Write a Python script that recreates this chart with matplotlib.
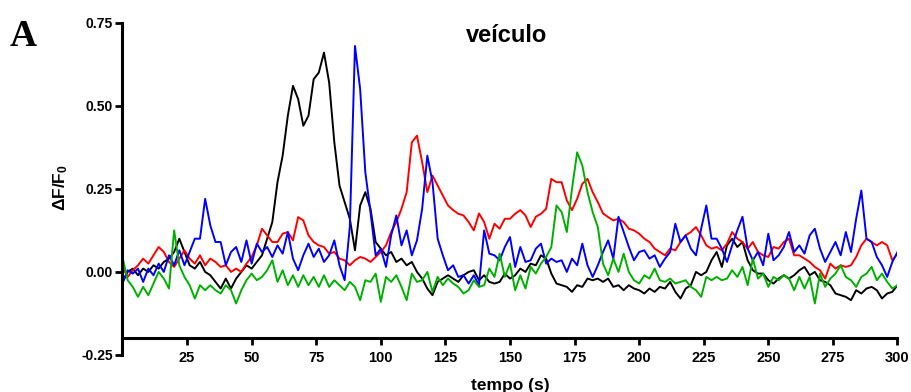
import matplotlib
matplotlib.use("Agg")
from matplotlib import pyplot as plt

plt.rcParams['font.family'] = ['Liberation Sans', 'DejaVu Sans']
plt.rcParams['font.weight'] = 'bold'
plt.rcParams['mathtext.fontset'] = 'custom'
plt.rcParams['mathtext.rm'] = 'Liberation Sans:bold'
plt.rcParams['mathtext.it'] = 'Liberation Sans:bold'
plt.rcParams['mathtext.bf'] = 'Liberation Sans:bold'

# sampling times (s), one value every 2 s
tempo = list(range(0, 301, 2))

# dF/F0 traces
preto = [
    -0.03, 0.0, 0.01, -0.01, 0.01, 0.0, 0.02, 0.01, 0.03, 0.04,
    0.06, 0.10, 0.06, 0.02, 0.01, 0.03, 0.0, -0.01, -0.03, -0.05,
    -0.02, -0.05, -0.02, 0.0, 0.02, 0.01, 0.03, 0.05, 0.10, 0.15,
    0.27, 0.35, 0.47, 0.56, 0.52, 0.44, 0.47, 0.58, 0.60, 0.66,
    0.57, 0.39, 0.26, 0.21, 0.16, 0.065, 0.20, 0.24, 0.19, 0.09,
    0.07, 0.05, 0.06, 0.03, 0.04, 0.02, 0.03, 0.0, -0.02, -0.05,
    -0.07, -0.03, -0.02, -0.01, -0.02, -0.03, -0.01, 0.0, 0.005, -0.025,
    -0.01, -0.03, -0.035, -0.03, -0.005, -0.02, -0.01, 0.01, 0.0, 0.025,
    0.02, 0.05, 0.04, -0.005, -0.035, -0.04, -0.045, -0.06, -0.04, -0.045,
    -0.02, -0.025, -0.02, -0.03, -0.02, -0.045, -0.04, -0.055, -0.04, -0.05,
    -0.055, -0.065, -0.05, -0.06, -0.045, -0.05, -0.03, -0.06, -0.08, -0.05,
    -0.04, 0.0, -0.01, 0.0, 0.035, 0.06, 0.015, 0.08, 0.10, 0.075,
    0.09, 0.035, 0.005, -0.005, -0.005, -0.025, -0.035, -0.02, -0.01, -0.02,
    -0.01, 0.005, 0.015, -0.01, 0.0, -0.025, -0.03, -0.04, -0.065, -0.07,
    -0.075, -0.085, -0.055, -0.065, -0.05, -0.045, -0.055, -0.08, -0.065, -0.06,
    -0.04,
]
vermelho = [
    0.015, -0.015, 0.005, 0.02, 0.04, 0.025, 0.05, 0.075, 0.06, 0.03,
    0.015, 0.04, 0.065, 0.04, 0.025, 0.05, 0.02, 0.04, 0.03, 0.015,
    0.02, 0.0, 0.01, 0.0, 0.025, 0.045, 0.08, 0.13, 0.11, 0.09,
    0.09, 0.115, 0.12, 0.095, 0.165, 0.155, 0.11, 0.09, 0.08, 0.075,
    0.055, 0.06, 0.04, 0.035, 0.02, 0.035, 0.045, 0.04, 0.03, 0.045,
    0.06, 0.08, 0.12, 0.15, 0.19, 0.24, 0.39, 0.41, 0.33, 0.24,
    0.29, 0.26, 0.23, 0.20, 0.186, 0.175, 0.17, 0.15, 0.125, 0.176,
    0.15, 0.10, 0.145, 0.13, 0.16, 0.16, 0.175, 0.186, 0.17, 0.135,
    0.166, 0.175, 0.19, 0.28, 0.27, 0.27, 0.215, 0.186, 0.22, 0.265,
    0.28, 0.24, 0.21, 0.176, 0.165, 0.155, 0.16, 0.15, 0.13, 0.125,
    0.115, 0.10, 0.09, 0.07, 0.06, 0.05, 0.07, 0.065, 0.09, 0.11,
    0.12, 0.135, 0.11, 0.08, 0.07, 0.075, 0.065, 0.085, 0.12, 0.10,
    0.09, 0.07, 0.09, 0.06, 0.05, 0.045, 0.075, 0.07, 0.09, 0.10,
    0.05, 0.05, 0.04, 0.03, 0.015, 0.005, -0.02, 0.025, 0.01, 0.02,
    0.015, 0.02, 0.045, 0.08, 0.10, 0.09, 0.08, 0.09, 0.08, 0.035,
    0.055,
]
azul = [
    -0.035, 0.005, -0.005, 0.01, -0.03, 0.01, -0.01, 0.025, 0.0, 0.05,
    0.02, 0.065, 0.02, 0.06, 0.10, 0.10, 0.22, 0.14, 0.09, 0.09,
    0.02, 0.06, 0.075, 0.03, 0.095, 0.025, 0.085, 0.06, 0.075, 0.045,
    0.08, 0.055, 0.12, 0.04, 0.005, 0.05, 0.085, 0.045, 0.07, 0.03,
    0.05, 0.095, 0.02, -0.025, 0.135, 0.68, 0.55, 0.30, 0.18, 0.05,
    0.07, 0.015, 0.11, 0.17, 0.08, 0.125, 0.05, 0.095, 0.19, 0.35,
    0.27, 0.10, 0.05, 0.005, 0.02, -0.015, -0.01, -0.035, -0.01, -0.04,
    0.125, 0.055, 0.05, 0.035, 0.075, 0.105, 0.015, 0.075, 0.03, 0.035,
    0.07, 0.085, 0.025, 0.04, 0.03, 0.035, 0.0, 0.04, 0.02, 0.085,
    0.02, -0.015, 0.02, 0.06, 0.095, 0.04, 0.166, 0.12, 0.075, 0.035,
    0.06, 0.065, 0.04, 0.05, 0.015, 0.04, 0.06, 0.145, 0.09, 0.11,
    0.07, 0.05, 0.13, 0.20, 0.10, 0.10, 0.07, 0.03, 0.08, 0.125,
    0.166, 0.07, 0.035, 0.06, 0.02, 0.115, 0.035, 0.05, 0.075, 0.12,
    0.06, 0.08, 0.055, 0.11, 0.13, 0.07, 0.03, 0.06, 0.09, 0.05,
    0.12, 0.06, 0.16, 0.245, 0.10, 0.09, 0.045, 0.02, -0.015, 0.03,
    0.06,
]
verde = [
    0.045, -0.025, -0.045, -0.075, -0.045, -0.07, -0.035, 0.0, -0.02, -0.05,
    0.125, 0.02, -0.015, -0.04, -0.08, -0.04, -0.055, -0.04, -0.055, -0.065,
    -0.04, -0.055, -0.095, -0.055, -0.025, -0.005, -0.025, -0.015, 0.005, 0.035,
    -0.03, 0.005, -0.04, -0.01, -0.045, -0.01, -0.04, -0.015, -0.045, -0.01,
    -0.045, -0.025, -0.04, -0.055, -0.03, -0.045, -0.085, -0.025, -0.03, -0.005,
    -0.09, -0.015, -0.03, -0.01, -0.045, -0.085, -0.005, -0.03, -0.025, 0.0,
    -0.06, -0.015, -0.04, -0.02, -0.035, -0.045, -0.065, -0.055, -0.025, -0.045,
    -0.04, 0.01, -0.015, 0.055, -0.015, 0.025, -0.055, -0.01, -0.05, 0.015,
    -0.005, 0.025, 0.045, 0.075, 0.20, 0.18, 0.12, 0.25, 0.36, 0.32,
    0.24, 0.18, 0.135, 0.025, -0.01, 0.04, 0.0, 0.055, 0.0, -0.025,
    -0.035, -0.01, -0.02, 0.01, -0.025, -0.03, -0.02, -0.035, -0.03, -0.025,
    -0.045, -0.055, -0.075, -0.015, -0.025, -0.015, -0.025, -0.02, 0.005, -0.015,
    0.015, -0.04, 0.04, -0.02, -0.005, -0.045, -0.015, -0.025, -0.01, -0.02,
    -0.055, -0.015, -0.05, -0.015, -0.095, -0.005, -0.045, -0.02, -0.005, 0.02,
    -0.015, -0.025, -0.045, -0.015, -0.005, 0.015, -0.025, -0.005, -0.03, -0.05,
    -0.04,
]

xticks = [25, 50, 75, 100, 125, 150, 175, 200, 225, 250, 275, 300]
yticks = [-0.25, 0.0, 0.25, 0.50, 0.75]
ytick_labels = ['-0.25', '0.00', '0.25', '0.50', '0.75']

fig = plt.figure(figsize=(9.12, 3.92), dpi=100)
ax = fig.add_axes([0.1343, 0.0944, 0.8498, 0.8477])

ax.plot(tempo, preto, color='black', lw=1.4)
ax.plot(tempo, vermelho, color='#ff0000', lw=1.4)
ax.plot(tempo, azul, color='#0000ff', lw=1.4)
ax.plot(tempo, verde, color='#00b000', lw=1.4)

ax.set_xlim(0, 300)
ax.set_ylim(-0.25, 0.75)

# prism-like axes: x axis sits at -0.2, y axis runs the whole range
ax.spines['top'].set_visible(False)
ax.spines['right'].set_visible(False)
ax.spines['bottom'].set_position(('data', -0.2))
ax.spines['bottom'].set_bounds(0, 300)
ax.spines['left'].set_bounds(-0.25, 0.75)
for s in ('left', 'bottom'):
    ax.spines[s].set_linewidth(2.2)

ax.set_xticks(xticks)
ax.set_xticklabels([str(v) for v in xticks], fontsize=10.5, fontweight='bold')
ax.set_yticks(yticks)
ax.set_yticklabels(ytick_labels, fontsize=10, fontweight='bold')
ax.tick_params(axis='x', direction='out', length=5, width=2, pad=4)
ax.tick_params(axis='y', direction='out', length=5, width=2, pad=2)

fig.text(60.7 / 912, 1 - 187.5 / 392, 'ΔF/F$_0$', rotation=90,
         ha='center', va='center', fontsize=12.5, fontweight='bold')
fig.text(510 / 912, 1 - 390 / 392, 'tempo (s)', ha='center', va='baseline',
         fontsize=12.5, fontweight='bold')
fig.text(507 / 912, 1 - 41.5 / 392, 'veículo', ha='center', va='baseline',
         fontsize=17, fontweight='bold')
fig.text(10 / 912, 1 - 46 / 392, 'A', ha='left', va='baseline',
         fontsize=27, fontweight='bold', family=['Liberation Serif', 'DejaVu Serif'])

fig.savefig('out.png', dpi=100)
